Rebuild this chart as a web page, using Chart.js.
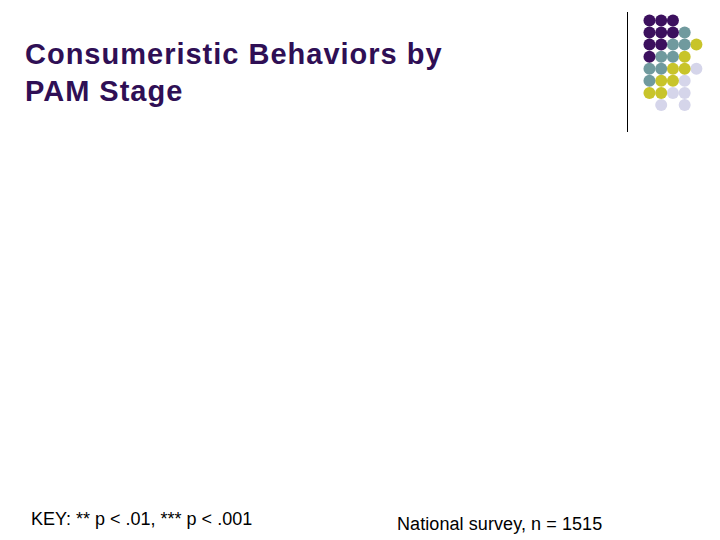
<!DOCTYPE html>
<html>
<head>
<meta charset="utf-8">
<script src="https://cdn.jsdelivr.net/npm/chart.js@4"></script>
<style>
  html, body { margin: 0; padding: 0; background: #ffffff; }
  body { width: 720px; height: 540px; position: relative; overflow: hidden; font-family: "Liberation Sans", Arial, sans-serif; }
  #title { position: absolute; left: 25px; top: 36px; font-size: 29px; font-weight: bold; color: #2f0f55; line-height: 37px; letter-spacing: 1px; white-space: nowrap; }
  #key { position: absolute; left: 31px; top: 509px; font-size: 18px; line-height: 21px; color: #000; white-space: nowrap; }
  #note { position: absolute; left: 397px; top: 514px; font-size: 18px; line-height: 21px; color: #000; white-space: nowrap; letter-spacing: 0.08px; }
  #vline { position: absolute; left: 627px; top: 12px; width: 1px; height: 120px; background: #000; }
  #dots { position: absolute; left: 620px; top: 0px; width: 100px; height: 140px; }
</style>
</head>
<body>
<div id="title">Consumeristic Behaviors by<br>PAM Stage</div>
<div id="vline"></div>
<div id="dots"><canvas id="c" width="100" height="140"></canvas></div>
<div id="key">KEY: ** p &lt; .01, *** p &lt; .001</div>
<div id="note">National survey, n = 1515</div>
<script>
// Decorative dot grid (column, row) per colour
const purpleCols = [0,1,2, 0,1,2, 0,1, 0];
const purpleRows = [0,0,0, 1,1,1, 2,2, 3];
const tealCols   = [3, 2,3, 1,2, 0,1, 0];
const tealRows   = [1, 2,2, 3,3, 4,4, 5];
const yellowCols = [4, 3, 2,3, 1,2, 0,1];
const yellowRows = [2, 3, 4,4, 5,5, 6,6];
const lavCols    = [4, 3, 2,3, 1,3];
const lavRows    = [4, 5, 6,6, 7,7];

function pts(cs, rs) { return cs.map((c, i) => ({ x: c, y: rs[i] })); }

new Chart(document.getElementById('c'), {
  type: 'scatter',
  data: {
    datasets: [
      { data: pts(purpleCols, purpleRows), backgroundColor: '#3c105e' },
      { data: pts(tealCols, tealRows), backgroundColor: '#709a9e' },
      { data: pts(yellowCols, yellowRows), backgroundColor: '#c8c42a' },
      { data: pts(lavCols, lavRows), backgroundColor: '#d5d5ea' }
    ].map(d => Object.assign(d, { pointRadius: 6, pointBorderWidth: 0, pointHoverRadius: 6 }))
  },
  options: {
    responsive: false,
    animation: false,
    layout: { padding: 0 },
    plugins: { legend: { display: false }, tooltip: { enabled: false } },
    scales: {
      x: { type: 'linear', min: -2, max: 5.5, display: false },
      y: { type: 'linear', min: -1.19, max: 9.4, reverse: true, display: false }
    }
  }
});
</script>
</body>
</html>
